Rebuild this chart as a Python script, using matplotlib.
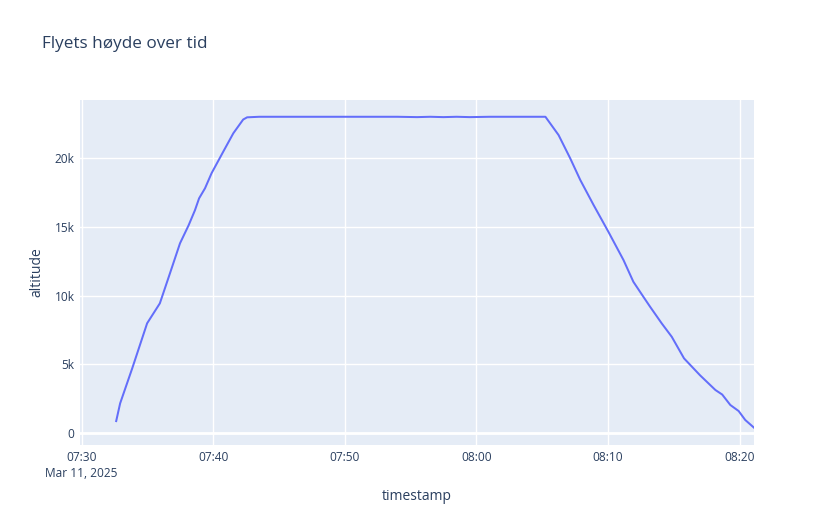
import pandas as pd
import matplotlib
matplotlib.use('Agg')
import matplotlib.pyplot as plt
import matplotlib.dates as mdates
from matplotlib.ticker import FuncFormatter

# flight track
times = ['07:32:38', '07:32:56', '07:33:51', '07:34:59', '07:35:57', '07:36:38',
         '07:37:29', '07:38:08', '07:38:37', '07:38:56', '07:39:23', '07:39:53',
         '07:40:46', '07:41:32', '07:42:17', '07:42:35', '07:43:30', '07:46:00',
         '07:50:00', '07:54:00', '07:55:30', '07:56:30', '07:57:30', '07:58:30',
         '07:59:30', '08:01:00', '08:03:00', '08:05:15', '08:06:15', '08:07:08',
         '08:07:54', '08:08:54', '08:10:02', '08:11:11', '08:11:56', '08:12:42',
         '08:13:12', '08:14:05', '08:14:51', '08:15:47', '08:17:00', '08:18:10',
         '08:18:41', '08:19:18', '08:19:56', '08:20:26', '08:21:06']
altitude = [870, 2160, 4700, 7980, 9430, 11370,
            13800, 15100, 16200, 17070, 17800, 18900,
            20460, 21800, 22800, 22960, 23000, 23000,
            23000, 23000, 22975, 23000, 22975, 23000,
            22975, 23000, 23000, 23000, 21670, 19980,
            18400, 16600, 14640, 12580, 11000, 9900,
            9190, 7980, 7000, 5430, 4200, 3130,
            2800, 2040, 1600, 950, 390]

day = '2025-03-11 '
ts = pd.to_datetime([day + t for t in times])

plt.rcParams['font.family'] = ['Open Sans', 'DejaVu Sans']
text_color = '#2a3f5f'

fig = plt.figure(figsize=(8.34, 5.25), dpi=100)
ax = fig.add_axes([80 / 834, 80 / 525, 674 / 834, 345 / 525])
ax.set_facecolor('#E5ECF6')

ax.plot(ts, altitude, color='#636EFA', linewidth=1.45)

ax.set_xlim(pd.Timestamp(day + '07:29:53'), pd.Timestamp(day + '08:21:06'))
ax.set_ylim(-870, 24220)

ax.xaxis.set_major_locator(mdates.MinuteLocator(byminute=range(0, 60, 10)))
first = mdates.date2num(pd.Timestamp(day + '07:30:00'))


def fmt_time(x, pos):
    label = mdates.num2date(x).strftime('%H:%M')
    if abs(x - first) < 1e-6:
        label += '\nMar 11, 2025'
    return label


ax.xaxis.set_major_formatter(FuncFormatter(fmt_time))
ax.set_yticks([0, 5000, 10000, 15000, 20000])
ax.set_yticklabels(['0', '5k', '10k', '15k', '20k'])

ax.grid(True, color='white', linewidth=1)
ax.axhline(0, color='white', linewidth=2, zorder=1.5)
ax.set_axisbelow(True)
for s in ax.spines.values():
    s.set_visible(False)
ax.tick_params(length=0, labelsize=8.6, colors=text_color, pad=4)
for lab in ax.get_xticklabels():
    lab.set_linespacing(1.3)

ax.set_xlabel('timestamp', fontsize=10, color=text_color, labelpad=7)
ax.set_ylabel('altitude', fontsize=10, color=text_color, labelpad=7)

fig.text(42 / 834, 1 - 44 / 525, 'Flyets høyde over tid', fontsize=12.3,
         color=text_color, va='center', ha='left')

fig.savefig('out.png', dpi=100)
